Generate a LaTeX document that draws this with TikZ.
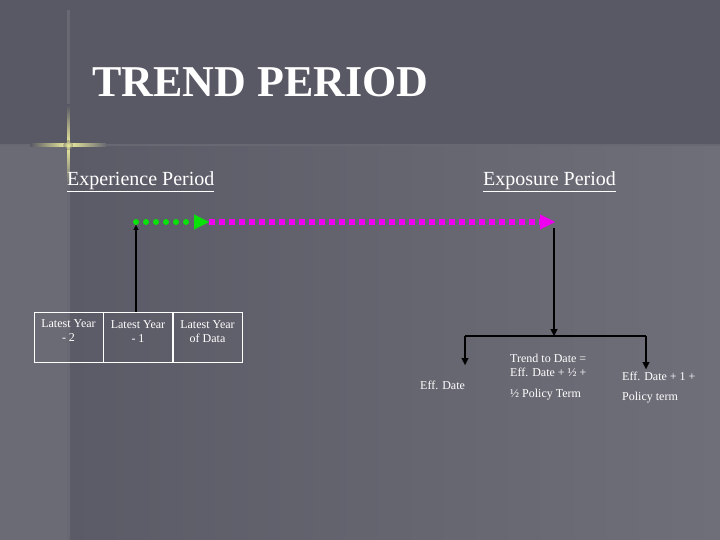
\documentclass[tikz,border=0pt]{standalone}
\usepackage{fontspec}
\setmainfont{Liberation Serif}
\usetikzlibrary{arrows.meta}
\definecolor{bgtop}{RGB}{89,89,101}
\definecolor{bgdark}{RGB}{91,91,103}
\definecolor{bglight}{RGB}{111,111,121}
\definecolor{strip}{RGB}{107,107,117}
\definecolor{rule}{RGB}{104,104,114}
\definecolor{dotgreen}{RGB}{10,225,10}
\definecolor{dotmag}{RGB}{240,0,240}
\definecolor{spark}{RGB}{240,240,160}
\tikzset{
  txt/.style={text=white, inner sep=0pt, font=\fontsize{12}{14}\selectfont},
  yearbox/.style={draw=white, line width=1pt, minimum width=69pt, minimum height=50pt, inner sep=0pt},
  boxtxt/.style={txt, align=center, anchor=north},
  period/.style={text=white, inner sep=0pt, anchor=base west, font=\fontsize{20}{22}\selectfont},
  greendots/.style={dotgreen, line width=6pt, line cap=round, dash pattern=on 0pt off 10pt,
     -{Triangle[length=15pt,width=15pt,line width=0.1pt]}},
  magdots/.style={dotmag, line width=5.5pt, dash pattern=on 5.5pt off 4.5pt,
     -{Triangle[length=15pt,width=15pt,line width=0.1pt]}},
  blk/.style={black, line width=2pt, -{Triangle[length=7pt,width=7pt,line width=0.1pt]}},
  bar/.style={black, line width=1.5pt}
}
\begin{document}
\begin{tikzpicture}[x=1pt,y=-1pt]
\useasboundingbox (0,0) rectangle (720,540);
% background
\fill[bgtop] (0,0) rectangle (720,540);
\shade[left color=bgdark, right color=bglight] (68,145) rectangle (720,540);
\fill[strip] (0,145) rectangle (68,540);
\fill[rule] (0,144) rectangle (720,146.5);
\fill[rule] (67,10) rectangle (69.5,540);
% sparkle
\shade[left color=bgtop, right color=rule, middle color=spark] (30,144) rectangle (106,146.5);
\shade[top color=bgtop, bottom color=rule, middle color=spark] (67,105) rectangle (69.5,185);
\shade[inner color=spark, outer color=bgtop, opacity=0.5] (68.2,145.2) circle (5);

% title
\node[text=white, inner sep=0pt, anchor=base west, font=\bfseries\fontsize{44}{44}\selectfont] (title) at (92,97) {TREND PERIOD};
\node[period] (exper) at (67,186) {\underline{Experience Period}};
\node[period] (expos) at (483,186) {\underline{Exposure Period}};

% timeline
\coordinate (gs) at (136,222);
\coordinate (gm) at (209,222);
\coordinate (me) at (555,222);
\draw[magdots] (gm) -- (me);
\draw[greendots] (gs) -- (gm);

% boxes
\node[yearbox] (b1) at (68.5,337) {};
\node[yearbox] (b2) at (138,337) {};
\node[yearbox] (b3) at (207.5,337) {};
\node[boxtxt] (t1) at ([yshift=-8pt]b1.north) {Latest Year\\- 2};
\node[boxtxt] (t2) at ([yshift=-9pt]b2.north) {Latest Year\\- 1};
\node[boxtxt] (t3) at ([yshift=-9pt]b3.north) {Latest Year\\of Data};

\draw[black, line width=2pt, -{Triangle[length=5pt,width=5pt,line width=0.1pt]}] (b2.north -| gs) -- ([yshift=-3pt]gs);

% right branch
\coordinate (drop) at (554,228);
\coordinate (j) at (554,336);
\coordinate (jl) at (465,336);
\coordinate (jr) at (646,336);
\coordinate (el) at (465,365);
\coordinate (er) at (646,369);
\draw[blk] (drop) -- (j);
\draw[bar] (jl) -- (jr);
\draw[blk] (jl) -- (el);
\draw[blk] (jr) -- (er);

\node[txt, anchor=west] (eff) at (420,385) {Eff. Date};
\node[txt, anchor=west] (tr1) at (510,358) {Trend to Date =};
\node[txt, anchor=west] (tr2) at (510,372) {Eff. Date + ½ +};
\node[txt, anchor=west] (tr3) at (510,395) {½ Policy Term};
\node[txt, anchor=west] (pe1) at (622,376) {Eff. Date + 1 +};
\node[txt, anchor=west] (pe2) at (622,398) {Policy term};
\end{tikzpicture}
\end{document}
